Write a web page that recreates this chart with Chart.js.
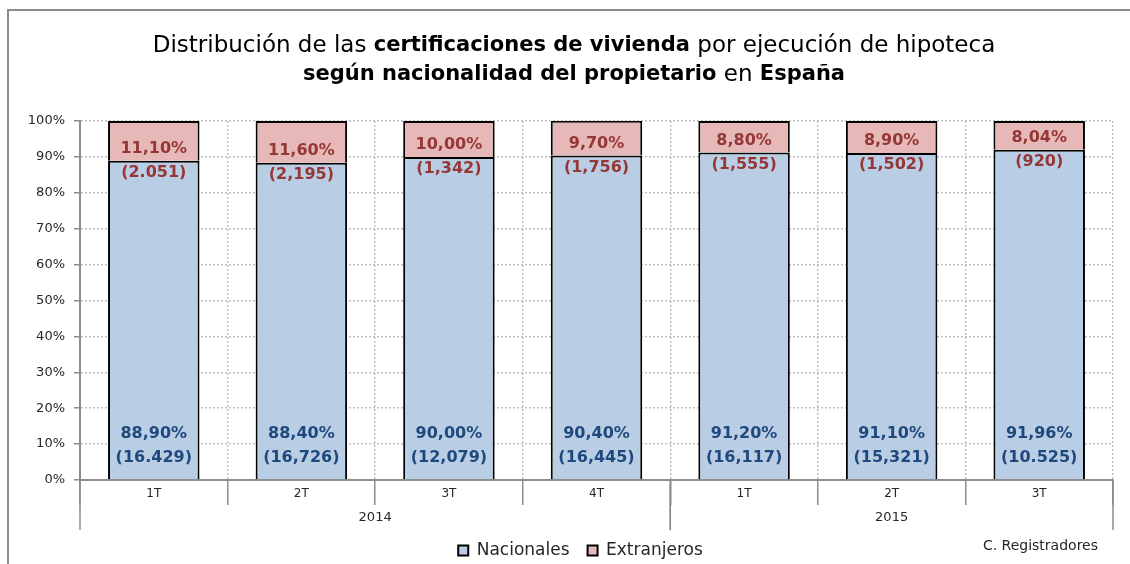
<!DOCTYPE html>
<html>
<head>
<meta charset="utf-8">
<script src="https://cdn.jsdelivr.net/npm/chart.js@4"></script>
<style>
  html, body { margin: 0; padding: 0; background: #fff; }
  #wrap { width: 1130px; height: 564px; }
</style>
</head>
<body>
<div id="wrap"><canvas id="bar-chart-canvas"></canvas></div>
<script>
// datos (porcentajes y número de certificaciones)
const categories = ['1T', '2T', '3T', '4T', '1T', '2T', '3T'];
const yearOfCategory = ['2014', '2014', '2014', '2014', '2015', '2015', '2015'];
const nacionales = [88.9, 88.4, 90.0, 90.4, 91.2, 91.1, 91.96];
const extranjeros = [11.1, 11.6, 10.0, 9.7, 8.8, 8.9, 8.04];
const nacionalesCount = ['16.429', '16,726', '12,079', '16,445', '16,117', '15,321', '10.525'];
const extranjerosCount = ['2.051', '2,195', '1,342', '1,756', '1,555', '1,502', '920'];

const azul = '#B9CDE5';
const rosa = '#E6B9B8';
const textoAzul = '#1F497D';
const textoRojo = '#953735';
const gris = '#8C8C8C';
const fuente = '"DejaVu Sans", sans-serif';

function pct(v) {
    return v.toFixed(2).replace('.', ',') + '%';
}

const titleLines = [
    [['Distribución de las ', false], ['certificaciones de vivienda', true], [' por ejecución de hipoteca', false]],
    [['según nacionalidad del propietario', true], [' en ', false], ['España', true]]
];

function titleFont(bold) {
    return bold ? 'bold 21px ' + fuente : '23px ' + fuente;
}

const extrasPlugin = {
    id: 'extras',
    afterLayout(chart) {
        // mover la leyenda como en el original
        chart.legend.left += 24;
        chart.legend.right += 24;
        chart.legend.top += 5;
        chart.legend.bottom += 5;
    },
    beforeDraw(chart) {
        const ctx = chart.ctx;
        ctx.save();
        // marco
        ctx.strokeStyle = gris;
        ctx.lineWidth = 2;
        ctx.beginPath();
        ctx.moveTo(8, 564);
        ctx.lineTo(8, 10);
        ctx.lineTo(1130, 10);
        ctx.stroke();

        // título con partes en negrita
        ctx.fillStyle = '#000';
        ctx.textBaseline = 'middle';
        ctx.textAlign = 'left';
        const ys = [46, 75];
        titleLines.forEach((runs, i) => {
            let total = 0;
            runs.forEach(r => {
                ctx.font = titleFont(r[1]);
                total += ctx.measureText(r[0]).width;
            });
            let x = 574 - total / 2;
            runs.forEach(r => {
                ctx.font = titleFont(r[1]);
                ctx.fillText(r[0], x, ys[i]);
                x += ctx.measureText(r[0]).width;
            });
        });

        ctx.font = '14px ' + fuente;
        ctx.fillStyle = '#262626';
        ctx.textAlign = 'right';
        ctx.fillText('C. Registradores', 1098, 546);
        ctx.restore();
    },
    afterDraw(chart) {
        const ctx = chart.ctx;
        const x = chart.scales.x;
        const area = chart.chartArea;
        const half = (x.getPixelForValue(1) - x.getPixelForValue(0)) / 2;
        ctx.save();
        // líneas de separación de años y etiquetas de año
        const groups = [];
        yearOfCategory.forEach((y, i) => {
            const g = groups[groups.length - 1];
            if (g && g.year === y) g.end = i;
            else groups.push({ year: y, start: i, end: i });
        });
        ctx.strokeStyle = gris;
        ctx.lineWidth = 1.5;
        ctx.font = '13px ' + fuente;
        ctx.fillStyle = '#262626';
        ctx.textAlign = 'center';
        ctx.textBaseline = 'middle';
        groups.forEach(g => {
            const x0 = x.getPixelForValue(g.start) - half;
            const x1 = x.getPixelForValue(g.end) + half;
            ctx.beginPath();
            ctx.moveTo(x0, area.bottom);
            ctx.lineTo(x0, area.bottom + 50);
            ctx.moveTo(x1, area.bottom);
            ctx.lineTo(x1, area.bottom + 50);
            ctx.stroke();
            ctx.fillText(g.year, (x0 + x1) / 2, area.bottom + 38);
        });
        ctx.restore();
    },
    afterDatasetsDraw(chart) {
        const ctx = chart.ctx;
        const m0 = chart.getDatasetMeta(0);
        ctx.save();
        ctx.textAlign = 'center';
        ctx.textBaseline = 'middle';
        ctx.font = 'bold 16px ' + fuente;
        m0.data.forEach((bar, i) => {
            ctx.fillStyle = textoAzul;
            ctx.fillText(pct(nacionales[i]), bar.x, bar.base - 45);
            ctx.fillText('(' + nacionalesCount[i] + ')', bar.x, bar.base - 21);
            ctx.fillStyle = textoRojo;
            ctx.fillText(pct(extranjeros[i]), bar.x, bar.y - 12);
            ctx.fillText('(' + extranjerosCount[i] + ')', bar.x, bar.y + 12);
        });
        ctx.restore();
    }
};

new Chart(document.getElementById('bar-chart-canvas'), {
    type: 'bar',
    data: {
        labels: categories,
        datasets: [
            {
                label: 'Nacionales',
                data: nacionales,
                backgroundColor: azul,
                borderColor: '#000',
                borderWidth: 2,
                barPercentage: 0.62,
                categoryPercentage: 1
            },
            {
                label: 'Extranjeros',
                data: extranjeros,
                backgroundColor: rosa,
                borderColor: '#000',
                borderWidth: 2,
                barPercentage: 0.62,
                categoryPercentage: 1
            }
        ]
    },
    options: {
        responsive: true,
        maintainAspectRatio: false,
        animation: false,
        layout: { padding: { top: 121, right: 17, left: 0, bottom: 0 } },
        plugins: {
            legend: {
                position: 'bottom',
                labels: {
                    boxWidth: 10,
                    boxHeight: 10,
                    padding: 18,
                    color: '#262626',
                    font: { size: 17, family: fuente }
                }
            },
            tooltip: { enabled: false }
        },
        scales: {
            x: {
                stacked: true,
                grid: {
                    offset: true,
                    color: '#BFBFBF',
                    tickColor: gris,
                    tickBorderDash: [],
                    tickLength: 25,
                    lineWidth: 1.5,
                    tickWidth: 1.5
                },
                border: { color: gris, width: 2, dash: [2, 2] },
                ticks: {
                    padding: -18,
                    color: '#262626',
                    font: { size: 12, family: fuente }
                },
                afterFit(scale) { scale.height = 39; }
            },
            y: {
                stacked: true,
                min: 0,
                max: 100,
                grid: {
                    color: '#BFBFBF',
                    tickColor: gris,
                    tickBorderDash: [],
                    tickLength: 6,
                    lineWidth: 1.5
                },
                border: { color: gris, width: 2, dash: [2, 2] },
                ticks: {
                    stepSize: 10,
                    padding: 9,
                    color: '#262626',
                    font: { size: 13, family: fuente },
                    callback: v => v + '%'
                },
                afterFit(scale) { scale.width = 80; }
            }
        }
    },
    plugins: [extrasPlugin]
});
</script>
</body>
</html>
